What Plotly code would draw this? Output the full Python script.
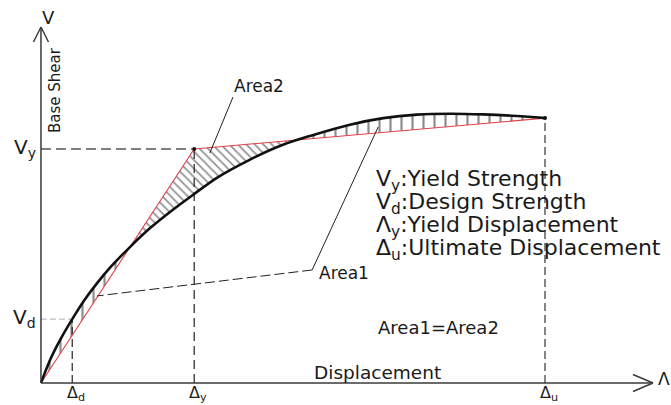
import numpy as np
import plotly.graph_objects as go

# Pushover capacity curve (displacement in mm, base shear in kN)
disp = [0, 1.8, 3.8, 6.2, 8.7, 11.1, 13.7, 17.7, 21.6, 25.6, 30.4, 34.9,
        41.5, 48.0, 53.4, 61.3, 67.9, 74.6, 81.2, 87.7, 94.4, 100]
shear = [0, 98, 184, 273, 357, 426, 493, 582, 661, 731, 808, 877,
         955, 1018, 1056, 1104, 1132, 1147, 1151, 1148, 1141, 1132]

# Idealised bilinear curve and characteristic points
DD, VD = 6.2, 273       # design point
DY, VY = 30.4, 1000     # yield point
DU, VU = 100.0, 1132    # ultimate point
bi_x = [0, DY, DU]
bi_y = [0, VY, VU]

legend_lines = ["V<sub>y</sub>:Yield Strength",
                "V<sub>d</sub>:Design Strength",
                "Λ<sub>y</sub>:Yield Displacement",
                "Δ<sub>u</sub>:Ultimate Displacement"]

W, H = 671, 405
X_RANGE = [-8.13, 125.0]
Y_RANGE = [-94.0, 1636.8]
SX = W / (X_RANGE[1] - X_RANGE[0])   # px per mm
SY = H / (Y_RANGE[1] - Y_RANGE[0])   # px per kN

TXT = "#1a1a1a"
FONT = "DejaVu Sans"


def px(x, y):
    """pixel position -> paper coordinates"""
    return x / W, 1 - y / H


def bilinear(x):
    return np.interp(x, bi_x, bi_y)


fig = go.Figure()

# ---- hatched regions between capacity curve and bilinear idealisation
cx = np.array(disp, float)
cv = np.array(shear, float)
diff = cv - bilinear(cx)
cuts = [0.0]
for i in range(len(cx) - 1):
    d0, d1 = diff[i], diff[i + 1]
    if d0 * d1 < 0:
        t = d0 / (d0 - d1)
        cuts.append(cx[i] + t * (cx[i + 1] - cx[i]))
cuts.append(DU)

for a, b in zip(cuts[:-1], cuts[1:]):
    top_x = [a] + [x for x in cx if a < x < b] + [b]
    top_y = list(np.interp(top_x, cx, cv))
    back_x = [b] + sorted([k for k in bi_x if a < k < b], reverse=True) + [a]
    back_y = list(bilinear(back_x))
    mid = 0.5 * (a + b)
    above = np.interp(mid, cx, cv) > bilinear(mid)
    pattern = (dict(shape="|", size=11, solidity=0.2, fgcolor="#1a1a1a")
               if above else
               dict(shape="\\", size=6, solidity=0.3, fgcolor="#262626"))
    fig.add_trace(go.Scatter(
        x=top_x + back_x, y=top_y + back_y, mode="lines", fill="toself",
        fillcolor="rgba(0,0,0,0)", fillpattern=pattern,
        line=dict(width=0), hoverinfo="skip", showlegend=False))


# ---- reference dashed lines
def dashed(x, y, color, width, dash):
    fig.add_trace(go.Scatter(x=x, y=y, mode="lines", showlegend=False,
                             hoverinfo="skip",
                             line=dict(color=color, width=width, dash=dash)))


dashed([0, DY], [VY, VY], "#555", 1.6, "10px,5px")
dashed([DY, DY], [0, VY], "#222", 1.2, "9px,5px")
dashed([DU, DU], [0, VU], "#222", 1.1, "8px,4px")
dashed([DD, DD], [0, VD], "#222", 1.2, "8px,4px")
dashed([0, DD], [VD, VD], "#999", 0.8, "6px,3px")

# ---- bilinear idealisation
fig.add_trace(go.Scatter(x=bi_x, y=bi_y, mode="lines", showlegend=False,
                         line=dict(color="#e0404a", width=1.1)))

# ---- capacity curve
fig.add_trace(go.Scatter(x=disp, y=shear, mode="lines", showlegend=False,
                         line=dict(color="#111", width=2.6, shape="spline",
                                   smoothing=0.8)))
fig.add_trace(go.Scatter(x=[DY, DU], y=[VY, VU], mode="markers",
                         showlegend=False,
                         marker=dict(color="#111", size=4)))

# ---- axes with open arrow heads
y_top = (383 - 27) / SY
x_end = (653 - 41) / SX
axis = dict(color="#3a3a3a", width=1.5)
shapes = [
    dict(type="line", xref="x", yref="y", x0=0, y0=0, x1=0, y1=y_top, line=axis),
    dict(type="line", xref="x", yref="y", x0=0, y0=0, x1=x_end, y1=0, line=axis),
    dict(type="line", xref="x", yref="y", x0=-7.5 / SX, y0=y_top - 15 / SY,
         x1=0, y1=y_top, line=axis),
    dict(type="line", xref="x", yref="y", x0=7.5 / SX, y0=y_top - 15 / SY,
         x1=0, y1=y_top, line=axis),
    dict(type="line", xref="x", yref="y", x0=x_end - 20 / SX, y0=8.5 / SY,
         x1=x_end, y1=0, line=axis),
    dict(type="line", xref="x", yref="y", x0=x_end - 20 / SX, y0=-8.5 / SY,
         x1=x_end, y1=0, line=axis),
]

# ---- leader lines for the area labels
lead = dict(color="#222", width=1)
shapes += [
    dict(type="line", xref="x", yref="y", x0=38.1, y0=1222, x1=33.5, y1=983,
         line=lead),
    dict(type="line", xref="x", yref="y", x0=53.8, y0=483, x1=66.9, y1=1094,
         line=lead),
    dict(type="line", xref="x", yref="y", x0=53.8, y0=483, x1=11.1, y1=372,
         line=dict(color="#222", width=1, dash="10px,4px")),
]

# ---- labels
ann = []


def label(text, x, y, size, xanchor="center", yanchor="middle", **kw):
    xp, yp = px(x, y)
    ann.append(dict(text=text, x=xp, y=yp, xref="paper", yref="paper",
                    xanchor=xanchor, yanchor=yanchor, showarrow=False,
                    font=dict(family=FONT, size=size, color=TXT), **kw))


label("V", 48, 18, 18)
label("Base Shear", 55, 90, 15, textangle=-90)
label("Area2", 259, 86, 17)
label("Area1", 344, 273, 17)
label("Area1=Area2", 438, 327, 18)
label("Displacement", 377, 372, 18.5)
label("Λ", 664, 379, 17)
for i, t in enumerate(legend_lines):
    label(t, 374, 180 + i * 23.3, 22, xanchor="left")

# tick-style labels tied to the characteristic values
for txt, yv in [("V<sub>y</sub>", VY), ("V<sub>d</sub>", VD)]:
    ann.append(dict(text=txt, x=0, y=yv, xref="x", yref="y", xanchor="right",
                    yanchor="middle", xshift=-3, yshift=1, showarrow=False,
                    font=dict(family=FONT, size=20, color=TXT)))
for txt, xv in [("Δ<sub>d</sub>", DD), ("Δ<sub>y</sub>", DY), ("Δ<sub>u</sub>", DU)]:
    ann.append(dict(text=txt, x=xv, y=0, xref="x", yref="y", xanchor="center",
                    yanchor="top", xshift=4, yshift=2, showarrow=False,
                    font=dict(family=FONT, size=16, color=TXT)))

fig.update_layout(
    width=W, height=H, autosize=False,
    margin=dict(l=0, r=0, t=0, b=0, pad=0),
    paper_bgcolor="white", plot_bgcolor="white",
    xaxis=dict(range=X_RANGE, visible=False, fixedrange=True),
    yaxis=dict(range=Y_RANGE, visible=False, fixedrange=True),
    shapes=shapes, annotations=ann, showlegend=False,
)

fig.write_html("out.html")
